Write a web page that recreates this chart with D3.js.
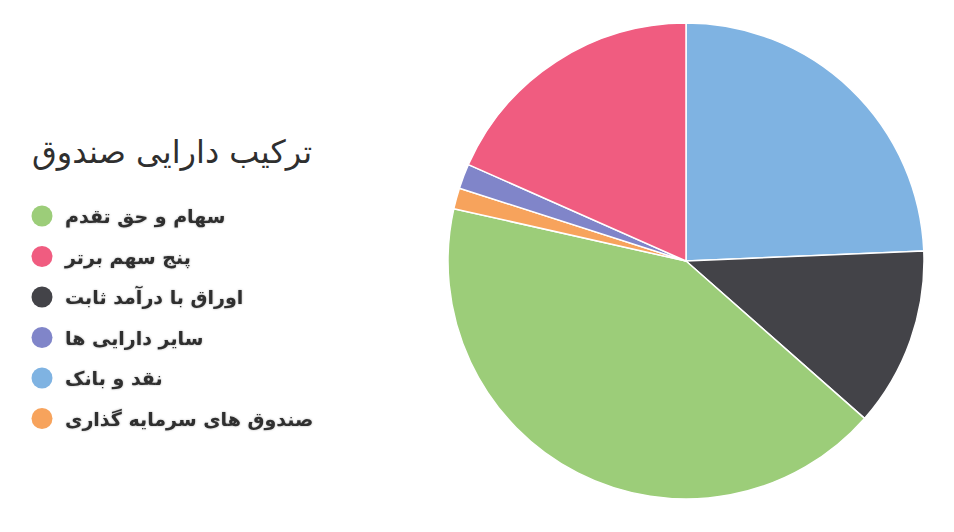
<!DOCTYPE html>
<html>
<head>
<meta charset="utf-8">
<script src="https://cdn.jsdelivr.net/npm/d3@7"></script>
<style>
  html, body { margin: 0; padding: 0; background: #ffffff; }
  svg { display: block; }
  text { font-family: "DejaVu Sans", sans-serif; }
</style>
</head>
<body>
<svg id="chart" width="954" height="532"></svg>
<script>
// Slice order as drawn clockwise from 12 o'clock
const sliceNames = ["نقد و بانک", "اوراق با درآمد ثابت", "سهام و حق تقدم", "صندوق های سرمایه گذاری", "سایر دارایی ها", "پنج سهم برتر"];
const sliceValues = [24.33, 12.17, 42.03, 1.42, 1.69, 18.36];
const sliceColors = ["#7fb3e2", "#434348", "#9ccd79", "#f7a35c", "#8085c9", "#f05c80"];

// Legend order
const legendNames = ["سهام و حق تقدم", "پنج سهم برتر", "اوراق با درآمد ثابت", "سایر دارایی ها", "نقد و بانک", "صندوق های سرمایه گذاری"];
const titleText = "ترکیب دارایی صندوق";

const svg = d3.select("#chart");
const cx = 686, cy = 261, r = 238;

const colorOf = d3.scaleOrdinal().domain(sliceNames).range(sliceColors);

const pie = d3.pie().sort(null).value(d => d.value);
const arc = d3.arc().innerRadius(0).outerRadius(r);
const data = sliceNames.map((n, i) => ({ name: n, value: sliceValues[i] }));

svg.append("g")
  .attr("transform", `translate(${cx},${cy})`)
  .selectAll("path")
  .data(pie(data))
  .join("path")
  .attr("d", arc)
  .attr("fill", d => colorOf(d.data.name))
  .attr("stroke", "#ffffff")
  .attr("stroke-width", 1.5)
  .attr("stroke-linejoin", "round");

// Title
svg.append("text")
  .attr("x", 32)
  .attr("y", 163)
  .attr("font-size", 32)
  .attr("fill", "#2f2f2f")
  .attr("text-anchor", "start")
  .text(titleText);

// Legend
const legendY = d3.scalePoint().domain(legendNames).range([216, 418.5]);
const lg = svg.append("g");
const items = lg.selectAll("g").data(legendNames).join("g")
  .attr("transform", d => `translate(0,${legendY(d)})`);
items.append("circle")
  .attr("cx", 42)
  .attr("cy", 0)
  .attr("r", 10.5)
  .attr("fill", d => colorOf(d));
items.append("text")
  .attr("x", 65)
  .attr("y", 7)
  .attr("font-size", 19)
  .attr("font-weight", "bold")
  .attr("fill", "#2f2f2f")
  .attr("text-anchor", "start")
  .style("filter", "drop-shadow(0px 0px 1px rgba(0,0,0,0.3))")
  .text(d => d);
</script>
</body>
</html>
